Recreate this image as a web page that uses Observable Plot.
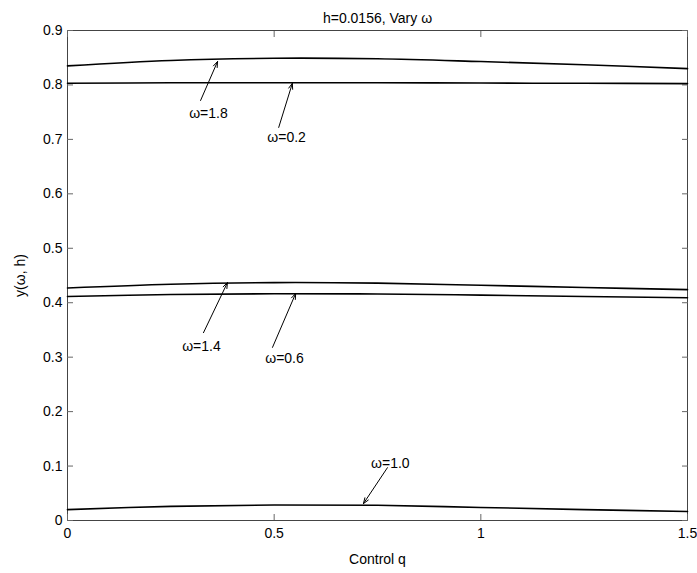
<!DOCTYPE html>
<html><head><meta charset="utf-8">
<script src="https://cdn.jsdelivr.net/npm/d3@7"></script>
<script src="https://cdn.jsdelivr.net/npm/@observablehq/plot@0.6"></script>
<style>body{margin:0;background:#fff}</style>
</head><body><div id="chart"></div>
<script>
const q = [0, 0.25, 0.5, 0.75, 1.0, 1.25, 1.5];
const w18 = [0.835, 0.845, 0.849, 0.848, 0.843, 0.837, 0.830];
const w02 = [0.803, 0.804, 0.804, 0.804, 0.8035, 0.803, 0.8025];
const w14 = [0.427, 0.434, 0.437, 0.436, 0.432, 0.428, 0.424];
const w06 = [0.4115, 0.415, 0.4165, 0.416, 0.414, 0.4115, 0.409];
const w10 = [0.020, 0.026, 0.0285, 0.028, 0.024, 0.020, 0.0165];
const seriesNames = ["ω=1.8", "ω=0.2", "ω=1.4", "ω=0.6", "ω=1.0"];
const seriesValues = [w18, w02, w14, w06, w10];
// annotation: label position, arrow tail, arrow head (data units)
const annLabel = ["ω=1.8", "ω=0.2", "ω=1.4", "ω=0.6", "ω=1.0"];
const annTx = [0.341, 0.530, 0.324, 0.525, 0.781];
const annTy = [0.748, 0.7035, 0.320, 0.298, 0.105];
const annAnchor = ["middle", "middle", "middle", "middle", "start"];
const annX1 = [0.322, 0.511, 0.329, 0.496, 0.774];
const annY1 = [0.7715, 0.722, 0.345, 0.318, 0.097];
const annX2 = [0.363, 0.544, 0.387, 0.552, 0.716];
const annY2 = [0.843, 0.803, 0.437, 0.417, 0.031];
const xTicks = [0, 0.5, 1, 1.5];
const yTicks = [0, 0.1, 0.2, 0.3, 0.4, 0.5, 0.6, 0.7, 0.8, 0.9];

const lines = [];
seriesNames.forEach((s, i) => q.forEach((x, j) => lines.push({s, x, y: seriesValues[i][j]})));
const anns = annLabel.map((t, i) => ({t, tx: annTx[i], ty: annTy[i], a: annAnchor[i], x1: annX1[i], y1: annY1[i], x2: annX2[i], y2: annY2[i]}));

const fmt = d => d === 0 ? "0" : String(d);
const plot = Plot.plot({
  width: 697, height: 573,
  marginLeft: 67, marginRight: 10, marginTop: 30, marginBottom: 53,
  style: {fontFamily: "'Liberation Sans', Arial, sans-serif", fontSize: "14px", color: "#000", background: "#fff"},
  x: {domain: [0, 1.5]},
  y: {domain: [0, 0.9]},
  marks: [
    Plot.frame({stroke: "#444"}),
    Plot.axisX(xTicks, {anchor: "bottom", tickSize: -6, tickPadding: 14, tickFormat: fmt, stroke: "#666", fontSize: 14, label: "Control q", labelAnchor: "center", labelOffset: 43, labelArrow: "none"}),
    Plot.axisX(xTicks, {anchor: "top", tickSize: -6, tickFormat: () => "", stroke: "#666", label: null}),
    Plot.axisY(yTicks, {anchor: "left", tickSize: -6, tickPadding: 11, tickFormat: fmt, stroke: "#666", fontSize: 14, label: "y(ω, h)", labelAnchor: "center", labelOffset: 52, labelArrow: "none"}),
    Plot.axisY(yTicks, {anchor: "right", tickSize: -6, tickFormat: () => "", stroke: "#666", label: null}),
    Plot.line(lines, {x: "x", y: "y", z: "s", stroke: "#000", strokeWidth: 1.6, curve: "catmull-rom"}),
    Plot.arrow(anns, {x1: "x1", y1: "y1", x2: "x2", y2: "y2", stroke: "#000", strokeWidth: 1, headLength: 9, headAngle: 40, bend: 0}),
    Plot.text(anns, {x: "tx", y: "ty", text: "t", textAnchor: "a", fill: "#000", fontSize: 14}),
    Plot.text(["h=0.0156, Vary ω"], {frameAnchor: "top", dy: -17, fill: "#000", fontSize: 14})
  ]
});
document.getElementById("chart").appendChild(plot);
</script>
</body></html>
